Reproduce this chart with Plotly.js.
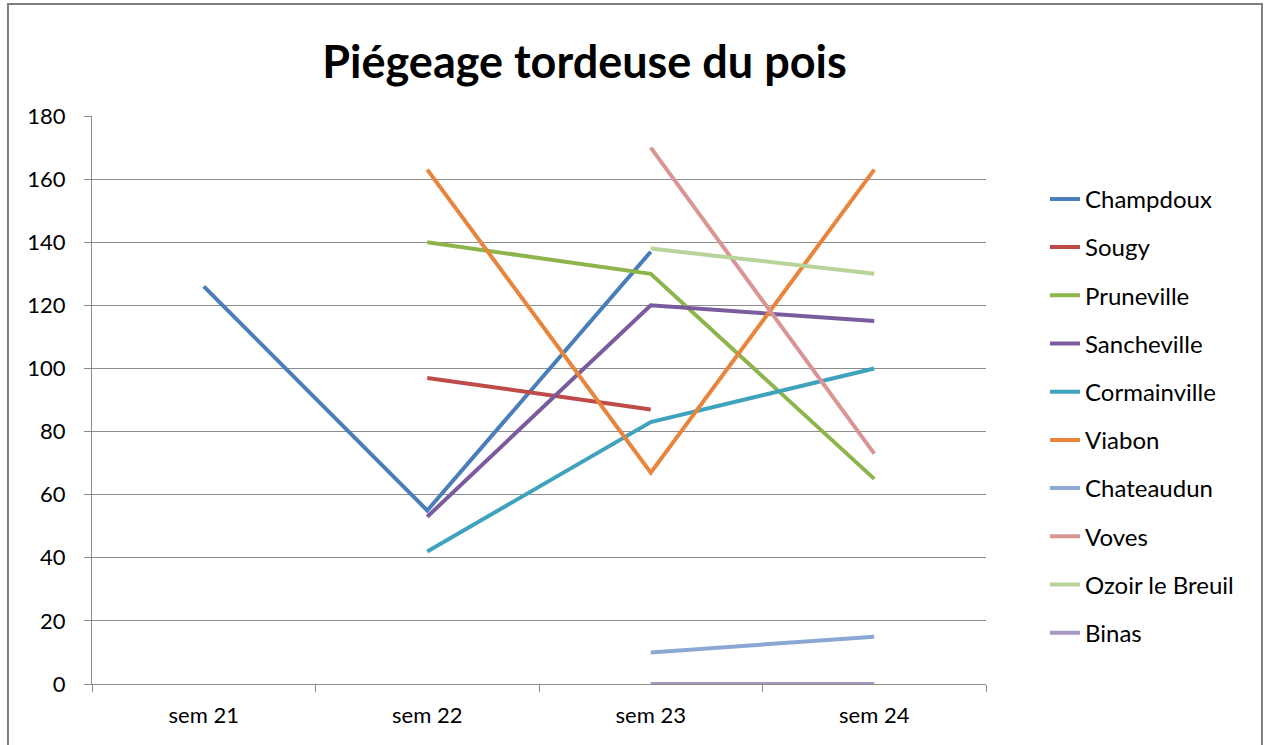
<!DOCTYPE html>
<html>
<head>
<meta charset="utf-8">
<script src="https://cdn.plot.ly/plotly-3.0.1.min.js"></script>
<style>
  html, body { margin: 0; padding: 0; background: #fff; }
  #chart { width: 1268px; height: 745px; }
</style>
</head>
<body>
<div id="chart"></div>
<script>
// Semaines de piégeage
const weeks = ['sem 21', 'sem 22', 'sem 23', 'sem 24'];

// Captures par site (null = pas de relevé)
const champdoux    = [126, 55, 137, null];
const sougy        = [null, 97, 87, null];
const pruneville   = [null, 140, 130, 65];
const sancheville  = [null, 53, 120, 115];
const cormainville = [null, 42, 83, 100];
const viabon       = [null, 163, 67, 163];
const chateaudun   = [null, null, 10, 15];
const voves        = [null, null, 170, 73];
const ozoir        = [null, null, 138, 130];
const binas        = [null, null, 0, 0];

const siteNames = ['Champdoux', 'Sougy', 'Pruneville', 'Sancheville', 'Cormainville',
  'Viabon', 'Chateaudun', 'Voves', 'Ozoir le Breuil', 'Binas'];
const siteValues = [champdoux, sougy, pruneville, sancheville, cormainville,
  viabon, chateaudun, voves, ozoir, binas];
const siteColors = ['#4a7ebb', '#be4b48', '#8eb44c', '#7a5c9e', '#3fa3bd',
  '#e8853a', '#8ba8d4', '#d99594', '#b9d49b', '#a897c4'];

const FONT = 'Lato, "Open Sans", sans-serif';
const GRID = '#8c8c8c';

const traces = siteNames.map((name, i) => ({
  type: 'scatter',
  mode: 'lines',
  x: weeks,
  y: siteValues[i],
  name: name,
  legendgroup: name,
  connectgaps: false,
  line: { color: siteColors[i], width: 4 }
}));

const layout = {
  width: 1268,
  height: 745,
  paper_bgcolor: '#fff',
  plot_bgcolor: '#fff',
  margin: { l: 92, r: 282, t: 116, b: 61 },
  font: { family: FONT, color: '#000' },
  title: {
    text: '<b>Piégeage tordeuse du pois</b>',
    font: { family: FONT, size: 45, color: '#000' },
    xref: 'container', x: 0.461, xanchor: 'center',
    yref: 'container', y: 0.917, yanchor: 'middle'
  },
  xaxis: {
    type: 'category',
    range: [-0.5, 3.5],
    tickson: 'boundaries',
    ticks: 'outside',
    ticklen: 7,
    tickcolor: GRID,
    showgrid: false,
    showline: true,
    linecolor: GRID,
    linewidth: 1,
    tickfont: { size: 22, color: '#000' },
    ticklabelstandoff: 12,
    fixedrange: true
  },
  yaxis: {
    range: [0, 180],
    dtick: 20,
    ticks: 'outside',
    ticklen: 7,
    tickcolor: GRID,
    showgrid: true,
    gridcolor: GRID,
    gridwidth: 1,
    zeroline: false,
    showline: true,
    linecolor: GRID,
    linewidth: 1,
    tickfont: { size: 22, color: '#000' },
    ticklabelstandoff: 14,
    fixedrange: true
  },
  showlegend: true,
  legend: {
    x: 1.066, xanchor: 'left',
    y: 0.893, yanchor: 'top',
    font: { size: 24, color: '#000' },
    tracegroupgap: 14,
    bgcolor: 'rgba(0,0,0,0)'
  },
  shapes: [{
    type: 'rect', xref: 'paper', yref: 'paper', layer: 'below',
    x0: -0.094, x1: 1.3087, y0: -0.2, y1: 1.197,
    line: { color: '#7f7f7f', width: 2 }
  }]
};

Plotly.newPlot('chart', traces, layout, { displayModeBar: false, staticPlot: true });
</script>
</body>
</html>
